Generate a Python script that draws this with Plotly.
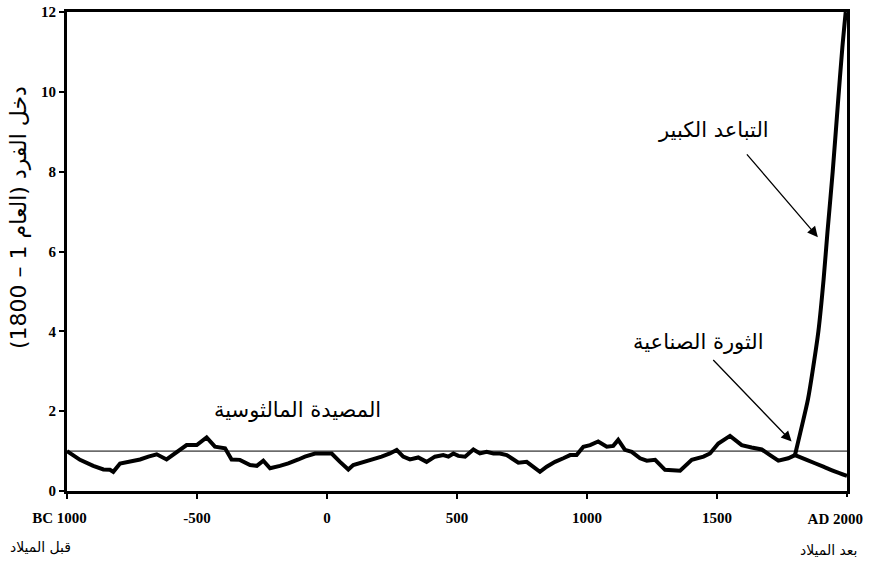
import plotly.graph_objects as go

# Malthusian era: per-capita income (index, 1 = subsistence level)
years = [-1000, -950, -899, -860, -835, -822, -796, -758, -719, -687, -655, -617, -578,
         -540, -501, -463, -431, -392, -367, -335, -296, -270, -245, -219, -181, -149,
         -110, -85, -46, -8, 18, 50, 82, 101, 133, 172, 210, 242, 268, 293, 319, 351,
         383, 415, 447, 467, 486, 505, 531, 563, 588, 614, 640, 665, 691, 710, 736,
         768, 794, 819, 845, 877, 909, 935, 960, 986, 1012, 1043, 1076, 1101, 1120,
         1146, 1172, 1204, 1230, 1262, 1300, 1332, 1358, 1403, 1448, 1473, 1505, 1550,
         1595, 1633, 1672, 1704, 1736, 1774, 1800]
income = [1.00, 0.78, 0.63, 0.54, 0.53, 0.48, 0.69, 0.73, 0.79, 0.86, 0.92, 0.79, 0.97,
          1.15, 1.15, 1.34, 1.11, 1.07, 0.79, 0.78, 0.65, 0.63, 0.76, 0.57, 0.63, 0.69,
          0.79, 0.86, 0.94, 0.94, 0.94, 0.73, 0.54, 0.65, 0.71, 0.78, 0.86, 0.94, 1.03,
          0.86, 0.79, 0.84, 0.73, 0.86, 0.90, 0.86, 0.94, 0.88, 0.86, 1.04, 0.94, 0.98,
          0.94, 0.94, 0.90, 0.82, 0.71, 0.73, 0.61, 0.48, 0.61, 0.73, 0.82, 0.90, 0.90,
          1.11, 1.15, 1.24, 1.11, 1.13, 1.28, 1.03, 0.98, 0.82, 0.76, 0.78, 0.53, 0.53,
          0.51, 0.78, 0.86, 0.94, 1.19, 1.38, 1.15, 1.09, 1.04, 0.90, 0.76, 0.82, 0.90]

# Great divergence: rich branch
rich_years = [1800, 1820, 1850, 1870, 1890, 1910, 1925, 1945, 1965, 1982, 1995]
rich_income = [0.90, 1.45, 2.30, 3.10, 4.00, 5.30, 6.50, 8.00, 9.70, 11.1, 12.0]

# Great divergence: poor branch
poor_years = [1800, 1845, 1909, 1950, 2000]
poor_income = [0.90, 0.78, 0.61, 0.50, 0.38]

subsistence = 1.0

FS = "\u2007"
tick_years = [-1000, -500, 0, 500, 1000, 1500]
tick_labels = ["BC 1000" + FS * 2, "-500", "0", "500", "1000", "1500"]
end_tick_years = [2000]
end_tick_labels = ["AD 2000"]
y_ticks = [0, 2, 4, 6, 8, 10, 12]

RLE, PDF = "\u202B", "\u202C"
ytitle = "دخل الفرد (العام 1 – 1800)"
lab_div = "التباعد الكبير"
lab_ind = "الثورة الصناعية"
lab_trap = "المصيدة المالثوسية"
lab_bc = "قبل الميلاد"
lab_ad = "بعد الميلاد"

LW = 4
fig = go.Figure()
fig.add_trace(go.Scatter(x=years, y=income, mode="lines",
                         line=dict(color="black", width=LW), showlegend=False))
fig.add_trace(go.Scatter(x=rich_years, y=rich_income, mode="lines",
                         line=dict(color="black", width=LW, shape="spline", smoothing=0.8),
                         showlegend=False))
fig.add_trace(go.Scatter(x=poor_years, y=poor_income, mode="lines", xaxis="x2",
                         line=dict(color="black", width=LW, shape="spline", smoothing=0.8),
                         showlegend=False))
fig.add_hline(y=subsistence, line=dict(color="black", width=1))

tickfont = dict(family="Liberation Serif", size=15, color="black", weight="bold")
arfont = dict(family="DejaVu Sans", size=21, color="black")

fig.update_layout(
    width=871, height=563,
    margin=dict(l=67, r=24, t=12, b=72),
    paper_bgcolor="white", plot_bgcolor="white",
    xaxis=dict(range=[-1000, 2000], tickvals=tick_years, ticktext=tick_labels,
               showline=True, mirror=True, linecolor="black", linewidth=3,
               ticks="outside", ticklen=5, tickwidth=2, tickcolor="black",
               showgrid=False, zeroline=False, automargin=False,
               ticklabeloverflow="allow",
               tickfont=tickfont, ticklabelstandoff=6),
    xaxis2=dict(range=[-1000, 2000], overlaying="x", matches="x", side="bottom", anchor="y",
                tickvals=end_tick_years, ticktext=end_tick_labels,
                ticklabelposition="outside left", ticklabelshift=17,
                showline=False, ticks="outside", ticklen=5, tickwidth=2, tickcolor="black",
                showgrid=False, zeroline=False, automargin=False,
                ticklabeloverflow="allow",
                tickfont=tickfont, ticklabelstandoff=14),
    yaxis=dict(range=[0, 12], tickvals=y_ticks,
               showline=True, mirror=True, linecolor="black", linewidth=3,
               ticks="outside", ticklen=5, tickwidth=2, tickcolor="black",
               showgrid=False, zeroline=False, automargin=False,
               ticklabeloverflow="allow",
               tickfont=tickfont),
)

ann = []
ann.append(dict(x=-0.0615, y=6.84, xref="paper", yref="y", text=RLE + ytitle + PDF,
                xanchor="center", yanchor="middle",
                textangle=-90, showarrow=False, font=dict(family="DejaVu Sans", size=22, color="black")))
ann.append(dict(x=1485, y=9.04, xref="x", yref="y", text=lab_div, showarrow=False, font=arfont))
ann.append(dict(x=1427, y=3.73, xref="x", yref="y", text=lab_ind, showarrow=False, font=arfont))
ann.append(dict(x=-115, y=2.03, xref="x", yref="y", text=lab_trap, showarrow=False, font=arfont))
ann.append(dict(x=1888, y=6.36, xref="x", yref="y", ax=1610, ay=8.47, axref="x", ayref="y",
                text="", showarrow=True, arrowhead=2, arrowsize=1.6, arrowwidth=1.3, arrowcolor="black"))
ann.append(dict(x=1787, y=1.24, xref="x", yref="y", ax=1480, ay=3.32, axref="x", ayref="y",
                text="", showarrow=True, arrowhead=2, arrowsize=1.6, arrowwidth=1.3, arrowcolor="black"))
ann.append(dict(x=-0.0346, y=-0.117, xref="paper", yref="paper", text=lab_bc, showarrow=False,
                xanchor="center", yanchor="middle",
                font=dict(family="DejaVu Sans", size=14, color="black")))
ann.append(dict(x=0.977, y=-0.123, xref="paper", yref="paper", text=lab_ad, showarrow=False,
                xanchor="center", yanchor="middle",
                font=dict(family="DejaVu Sans", size=14, color="black")))
fig.update_layout(annotations=ann)

# remove the default 8px page margin so the 871x563 figure fills the window exactly
fig.write_html("out.html", config={"displayModeBar": False},
               post_script="document.body.style.margin='0';document.body.style.padding='0';")
